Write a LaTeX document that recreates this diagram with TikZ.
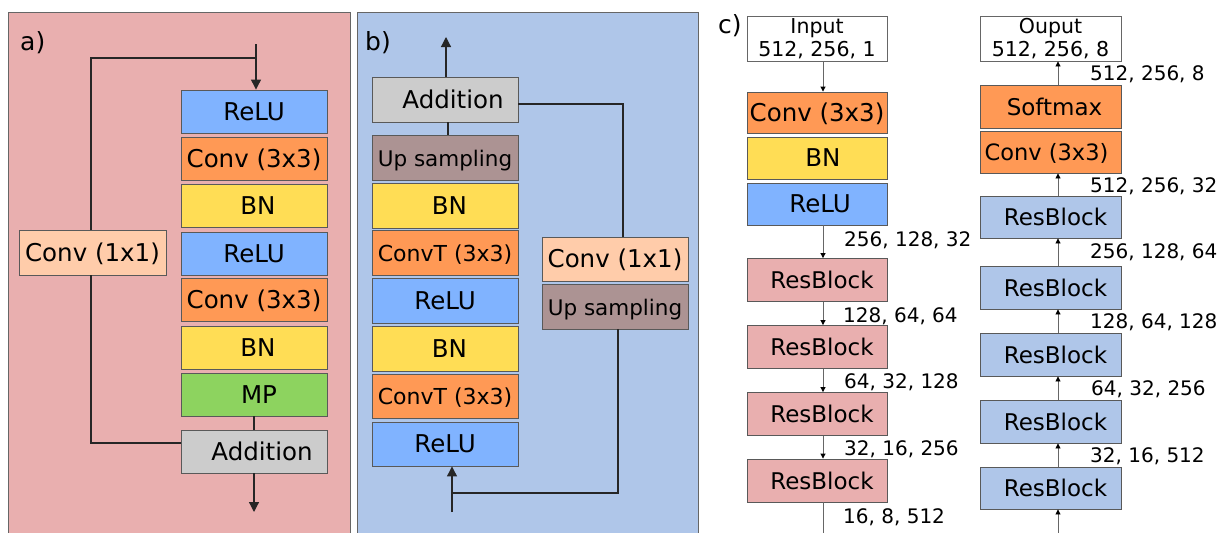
\documentclass[tikz,border=0pt]{standalone}
\usepackage{fontspec}
\setmainfont{DejaVu Sans}
\usetikzlibrary{arrows.meta}
\definecolor{pinkbg}{HTML}{E9AFAF}
\definecolor{bluebg}{HTML}{AFC6E9}
\definecolor{reluc}{HTML}{80B3FF}
\definecolor{convc}{HTML}{FF9955}
\definecolor{bnc}{HTML}{FFDD55}
\definecolor{mpc}{HTML}{8DD35F}
\definecolor{addc}{HTML}{CCCCCC}
\definecolor{peachc}{HTML}{FFCCAA}
\definecolor{upsc}{HTML}{AC9393}
\newcommand\shtxt[2]{\hspace*{#1}#2}
\begin{document}
\begin{tikzpicture}[x=1pt,y=-1pt,
  panel/.style={draw=black!60,line width=0.8pt},
  box/.style={draw=black!65,line width=0.9pt,inner sep=0pt,text height=17.5pt,text depth=0pt,
    minimum height=43pt,font=\fontsize{24.5}{28}\selectfont},
  awide/.style={box,minimum width=146pt},
  cwide/.style={box,minimum width=140pt},
  small/.style={font=\fontsize{22}{26}\selectfont},
  smaller/.style={font=\fontsize{21.5}{26}\selectfont},
  rbfont/.style={font=\fontsize{23}{27}\selectfont},
  iobox/.style={draw=black!60,line width=0.9pt,fill=white,inner sep=0pt,minimum width=140pt,
    minimum height=45pt,align=center,font=\fontsize{20.5}{23}\selectfont},
  dimlab/.style={anchor=base west,inner sep=0pt,font=\fontsize{20}{24}\selectfont},
  panlab/.style={anchor=base west,inner sep=0pt,font=\fontsize{25}{30}\selectfont},
  conn/.style={draw=black!85,line width=1.2pt},
  carrow/.style={conn,-{Triangle[width=10pt,length=10pt]}},
  thin/.style={draw=black!60,line width=0.9pt},
  tarrow/.style={thin,-{Triangle[width=5pt,length=5pt,color=black]}}
]
\useasboundingbox (0,0) rectangle (1227,533);
\fill[white] (0,0) rectangle (1227,533);
% panels
\draw[panel,fill=pinkbg] (8,12) rectangle (350,545);
\draw[panel,fill=bluebg] (357,12) rectangle (698,545);
\node[panlab] (la) at (20,50) {a)};
\node[panlab] (lb) at (365,50) {b)};
\node[panlab] (lc) at (718,33) {c)};

% ---------- panel a ----------
\node[awide,fill=reluc] (a1) at (254,111.5) {ReLU};
\node[awide,fill=convc] (a2) at (254,159) {Conv (3x3)};
\node[awide,fill=bnc]   (a3) at (254,206) {\shtxt{8pt}{BN}};
\node[awide,fill=reluc] (a4) at (254,253.5) {ReLU};
\node[awide,fill=convc] (a5) at (254,300) {Conv (3x3)};
\node[awide,fill=bnc]   (a6) at (254,347.5) {\shtxt{8pt}{BN}};
\node[awide,fill=mpc]   (a7) at (254,394.5) {\shtxt{10pt}{MP}};
\node[awide,fill=addc]  (a8) at (254,451.5) {\shtxt{16pt}{Addition}};
\node[box,fill=peachc,minimum width=147pt,minimum height=45pt] (a9) at (92.5,252.5) {Conv (1x1)};
\coordinate (ain) at (256,44);
\coordinate (abr) at (256,58);
\coordinate (aout) at (254,512);
\draw[carrow] (ain) -- ([xshift=2pt]a1.north);
\draw[conn] (abr) -| ([xshift=-1.5pt]a9.north);
\draw[conn] ([xshift=-1.5pt]a9.south) |- ([yshift=8.5pt]a8.west);
\draw[conn] (a7.south) -- (a8.north);
\draw[carrow] (a8.south) -- (aout);

% ---------- panel b ----------
\node[awide,fill=addc,minimum height=45pt] (b1) at (445,99.5) {\shtxt{16pt}{Addition}};
\node[awide,fill=upsc,minimum height=45pt,smaller] (b2) at (445,157.5) {Up sampling};
\node[awide,fill=bnc,minimum height=45pt]   (b3) at (445,205.5) {\shtxt{9pt}{BN}};
\node[awide,fill=convc,minimum height=45pt,small] (b4) at (445,252.5) {ConvT (3x3)};
\node[awide,fill=reluc,minimum height=45pt] (b5) at (445,300.5) {ReLU};
\node[awide,fill=bnc,minimum height=45pt]   (b6) at (445,348.5) {\shtxt{9pt}{BN}};
\node[awide,fill=convc,minimum height=44pt,small] (b7) at (445,396) {ConvT (3x3)};
\node[awide,fill=reluc,minimum height=44pt] (b8) at (445,444) {ReLU};
\node[awide,fill=peachc,minimum height=44pt] (b9) at (615,259) {Conv (1x1)};
\node[awide,fill=upsc,minimum height=45pt,smaller] (b10) at (615,306.5) {Up sampling};
\coordinate (bout) at (446,37);
\coordinate (bin) at (452,512);
\coordinate (bjoin) at (452,493);
\draw[carrow] ([xshift=1pt]b1.north) -- (bout);
\draw[conn] ([xshift=3pt]b2.north) -- ([xshift=3pt]b1.south);
\draw[conn] ([yshift=-4.5pt]b1.east) -| ([xshift=8pt]b9.north);
\draw[conn] ([xshift=3pt]b10.south) |- (bjoin);
\draw[carrow] (bin) -- ([xshift=7pt]b8.south);

% ---------- panel c, encoder ----------
\node[iobox] (cin) at (817,38.5) {Input\\512, 256, 1};
\node[cwide,fill=convc,minimum height=41pt] (c1) at (817,112.5) {Conv (3x3)};
\node[cwide,fill=bnc,minimum height=42pt]   (c2) at (817,158) {\shtxt{12pt}{BN}};
\node[cwide,fill=reluc,minimum height=42pt] (c3) at (817,204) {\shtxt{6pt}{ReLU}};
\node[cwide,fill=pinkbg,rbfont] (c4) at (817,280) {\shtxt{10pt}{ResBlock}};
\node[cwide,fill=pinkbg,rbfont] (c5) at (817,347) {\shtxt{10pt}{ResBlock}};
\node[cwide,fill=pinkbg,rbfont] (c6) at (817,414) {\shtxt{10pt}{ResBlock}};
\node[cwide,fill=pinkbg,rbfont] (c7) at (817,480.5) {\shtxt{10pt}{ResBlock}};
\coordinate (cend) at (823,545);
\draw[tarrow] ([xshift=6pt]cin.south) -- ([xshift=6pt]c1.north);
\draw[tarrow] ([xshift=6pt]c3.south) -- ([xshift=6pt]c4.north);
\draw[tarrow] ([xshift=6pt]c4.south) -- ([xshift=6pt]c5.north);
\draw[tarrow] ([xshift=6pt]c5.south) -- ([xshift=6pt]c6.north);
\draw[tarrow] ([xshift=6pt]c6.south) -- ([xshift=6pt]c7.north);
\draw[thin] ([xshift=6pt]c7.south) -- (cend);
\node[dimlab] (d1) at (844,246) {256, 128, 32};
\node[dimlab] (d2) at (843,322) {128, 64, 64};
\node[dimlab] (d3) at (844,388) {64, 32, 128};
\node[dimlab] (d4) at (844,455) {32, 16, 256};
\node[dimlab] (d5) at (843,523) {16, 8, 512};

% ---------- panel c, decoder ----------
\node[iobox,minimum width=141pt] (cout) at (1050.5,38.5) {Ouput\\512, 256, 8};
\node[box,minimum width=141pt,fill=convc,rbfont] (e1) at (1050.5,106.5) {\shtxt{8pt}{Softmax}};
\node[box,minimum width=141pt,fill=convc,minimum height=42pt,font=\fontsize{22.5}{26}\selectfont] (e2) at (1050.5,152) {\shtxt{-8pt}{Conv (3x3)}};
\node[box,minimum width=141pt,fill=bluebg,minimum height=42pt,rbfont] (e3) at (1050.5,217) {\shtxt{10pt}{ResBlock}};
\node[box,minimum width=141pt,fill=bluebg,rbfont] (e4) at (1050.5,287.5) {\shtxt{10pt}{ResBlock}};
\node[box,minimum width=141pt,fill=bluebg,rbfont] (e5) at (1050.5,354.5) {\shtxt{10pt}{ResBlock}};
\node[box,minimum width=141pt,fill=bluebg,rbfont] (e6) at (1050.5,421.5) {\shtxt{10pt}{ResBlock}};
\node[box,minimum width=141pt,fill=bluebg,minimum height=42pt,rbfont] (e7) at (1050.5,488) {\shtxt{10pt}{ResBlock}};
\coordinate (estart) at (1058,545);
\draw[tarrow] (estart) -- ([xshift=7.5pt]e7.south);
\draw[tarrow] ([xshift=7.5pt]e7.north) -- ([xshift=7.5pt]e6.south);
\draw[tarrow] ([xshift=7.5pt]e6.north) -- ([xshift=7.5pt]e5.south);
\draw[tarrow] ([xshift=7.5pt]e5.north) -- ([xshift=7.5pt]e4.south);
\draw[tarrow] ([xshift=7.5pt]e4.north) -- ([xshift=7.5pt]e3.south);
\draw[tarrow] ([xshift=7.5pt]e3.north) -- ([xshift=7.5pt]e2.south);
\draw[tarrow] ([xshift=7.5pt]e1.north) -- ([xshift=7.5pt]cout.south);
\node[dimlab] (f1) at (1090,80) {512, 256, 8};
\node[dimlab] (f2) at (1090,192) {512, 256, 32};
\node[dimlab] (f3) at (1090,258) {256, 128, 64};
\node[dimlab] (f4) at (1090,328) {128, 64, 128};
\node[dimlab] (f5) at (1091,395) {64, 32, 256};
\node[dimlab] (f6) at (1090,462) {32, 16, 512};
\end{tikzpicture}
\end{document}
